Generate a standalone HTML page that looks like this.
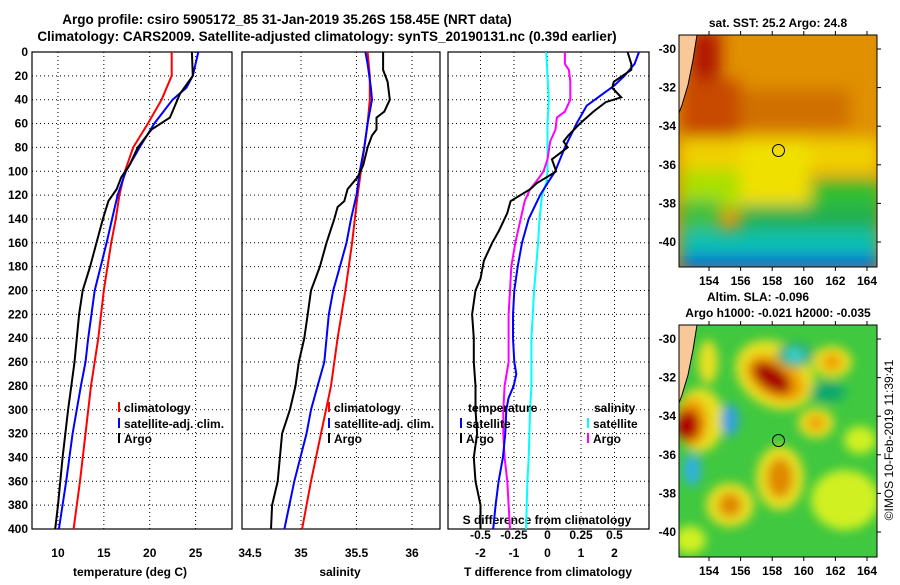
<!DOCTYPE html>
<html><head><meta charset="utf-8"><style>
body{margin:0;background:#fff}
svg text{font-family:"Liberation Sans",sans-serif;font-weight:bold;font-size:12px;fill:#000}
</style></head><body>
<svg id="c" width="900" height="580" xmlns="http://www.w3.org/2000/svg">
<defs>
<filter id="bl" x="-50%" y="-50%" width="200%" height="200%"><feGaussianBlur stdDeviation="8"/></filter>
<filter id="bl2" x="-50%" y="-50%" width="200%" height="200%"><feGaussianBlur stdDeviation="5"/></filter>
<clipPath id="m1"><rect x="679" y="35" width="198" height="232"/></clipPath>
<clipPath id="m2"><rect x="679" y="325" width="198" height="232"/></clipPath>
</defs>
<text x="287" y="24" text-anchor="middle" style="font-size:13.5px">Argo profile: csiro 5905172_85 31-Jan-2019 35.26S 158.45E (NRT data)</text>
<text x="327" y="41" text-anchor="middle" style="font-size:13.5px">Climatology: CARS2009. Satellite-adjusted climatology: synTS_20190131.nc (0.39d earlier)</text>

<!-- SST map -->
<g clip-path="url(#m1)">
<rect x="679" y="35" width="198" height="232" fill="#e09000"/>
<g filter="url(#bl)">
<rect x="690" y="30" width="30" height="90" fill="#b01800"/>
<rect x="680" y="80" width="60" height="60" fill="#c84800"/>
<rect x="740" y="90" width="110" height="40" fill="#d07000"/>
<rect x="680" y="138" width="200" height="36" fill="#f0d000"/>
<rect x="740" y="140" width="70" height="70" fill="#f0e000"/>
<rect x="680" y="170" width="60" height="40" fill="#a8e000"/>
<rect x="812" y="180" width="70" height="40" fill="#30c030"/>
<rect x="680" y="200" width="40" height="30" fill="#40c040"/>
<rect x="740" y="205" width="140" height="30" fill="#20b050"/>
<rect x="680" y="230" width="200" height="40" fill="#10c0b0"/>
<rect x="680" y="256" width="200" height="15" fill="#0060e0"/>
</g>
<path d="M679,35 L697,35 L693,60 L688,85 L682,105 L679,113 Z" fill="#f8c898" stroke="#000" stroke-width="1"/>
<circle cx="778.5" cy="150.5" r="6" fill="none" stroke="#000"/>
</g>
<rect x="679" y="35" width="198" height="232" fill="none" stroke="#000"/>
<text x="778" y="27" text-anchor="middle">sat. SST: 25.2 Argo: 24.8</text>

<!-- SLA map -->
<g clip-path="url(#m2)">
<rect x="679" y="325" width="198" height="232" fill="#40c840"/>
<g filter="url(#bl2)">
<ellipse cx="775" cy="375" rx="42" ry="32" fill="#e8e020" transform="rotate(30 775 375)"/>
<ellipse cx="775" cy="378" rx="32" ry="20" fill="#f0a000" transform="rotate(30 775 378)"/>
<ellipse cx="772" cy="378" rx="22" ry="12" fill="#a80000" transform="rotate(35 772 378)"/>
<ellipse cx="700" cy="420" rx="24" ry="32" fill="#e8e020"/>
<ellipse cx="692" cy="422" rx="16" ry="24" fill="#f0a000"/>
<ellipse cx="688" cy="425" rx="12" ry="16" fill="#b00000"/>
<ellipse cx="708" cy="362" rx="10" ry="22" fill="#e8e020"/>
<ellipse cx="795" cy="355" rx="18" ry="12" fill="#20a870"/>
<ellipse cx="795" cy="355" rx="10" ry="7" fill="#40d0d0"/>
<ellipse cx="832" cy="362" rx="20" ry="16" fill="#e8e020"/>
<ellipse cx="832" cy="362" rx="10" ry="9" fill="#f0a000"/>
<ellipse cx="828" cy="392" rx="18" ry="10" fill="#10a870"/>
<ellipse cx="816" cy="423" rx="18" ry="15" fill="#e8e020"/>
<ellipse cx="816" cy="423" rx="9" ry="8" fill="#f0a000"/>
<ellipse cx="730" cy="420" rx="9" ry="16" fill="#30a0e0"/>
<ellipse cx="692" cy="470" rx="9" ry="16" fill="#30b0e0"/>
<ellipse cx="780" cy="478" rx="24" ry="32" fill="#e8e020"/>
<ellipse cx="780" cy="478" rx="13" ry="20" fill="#e08800"/>
<ellipse cx="730" cy="505" rx="24" ry="22" fill="#e8e020"/>
<ellipse cx="730" cy="505" rx="12" ry="12" fill="#e08800"/>
<ellipse cx="845" cy="500" rx="34" ry="30" fill="#d0f020"/>
<ellipse cx="860" cy="440" rx="16" ry="14" fill="#d0f020"/>
<ellipse cx="690" cy="540" rx="16" ry="14" fill="#d0f020"/>
</g>
<path d="M679,325 L697,325 L693,350 L688,375 L682,395 L679,403 Z" fill="#f8c898" stroke="#000" stroke-width="1"/>
<circle cx="778.5" cy="440.5" r="6" fill="none" stroke="#000"/>
</g>
<rect x="679" y="325" width="198" height="232" fill="none" stroke="#000"/>
<text x="758" y="301" text-anchor="middle">Altim. SLA: -0.096</text>
<text x="778" y="317" text-anchor="middle">Argo h1000: -0.021 h2000: -0.035</text>
<text x="0" y="0" transform="translate(893,440) rotate(-90)" text-anchor="middle" style="font-weight:normal;font-size:12px">©IMOS 10-Feb-2019 11:39:41</text>
<g id="dyn"></g>
</svg>
<script>
// ---- data ----
const depths1 = [0,20,40,60,80,100,120,140,160,200,240,280,320,360,400];
const tClim = [22.4,22.4,21.3,19.8,18.2,17.3,16.7,16.3,15.8,15.0,14.4,13.6,13.0,12.4,11.7];
const depthsSat = [0,20,30,40,60,80,100,120,140,160,200,240,260,280,320,360,400];
const tSat = [25.3,24.7,24.0,22.5,20.5,18.9,17.4,16.5,15.9,15.3,14.0,13.3,13.0,12.5,11.6,10.9,10.1];
const depthsArgoT = [0,20,35,55,65,80,95,105,115,125,140,160,180,200,220,260,300,340,380,400];
const tArgo = [24.6,24.7,23.3,22.2,20.2,18.7,17.8,16.9,16.4,15.5,14.9,14.2,13.5,12.7,12.3,11.8,11.1,10.5,10.0,9.7];
const depthsSClim = [0,20,40,60,80,100,120,160,200,240,280,320,360,400];
const sClim = [35.60,35.62,35.62,35.60,35.57,35.54,35.51,35.46,35.40,35.33,35.27,35.18,35.09,35.01];
const depthsSSat = [0,10,30,40,60,80,100,120,140,160,180,200,220,260,280,300,320,360,400];
const sSat = [35.58,35.60,35.63,35.64,35.60,35.57,35.53,35.50,35.45,35.41,35.35,35.29,35.25,35.21,35.15,35.09,35.05,34.94,34.85];
const depthsSArgo = [0,15,25,40,50,55,65,70,80,95,105,115,125,130,140,160,180,200,220,240,260,280,300,320,340,360,380,400];
const sArgo = [35.74,35.74,35.78,35.80,35.75,35.68,35.68,35.64,35.60,35.56,35.51,35.42,35.39,35.33,35.30,35.23,35.17,35.09,35.06,35.03,34.98,34.95,34.90,34.83,34.81,34.79,34.74,34.73];
const depthsDT = [0,10,20,28,35,45,60,80,100,110,120,140,160,180,200,220,240,260,270,280,290,300,320,340,360,380,400];
const dTSat = [2.73,2.6,2.3,2.0,1.66,1.17,0.87,0.52,0.23,0,-0.22,-0.56,-0.76,-0.89,-0.99,-1.03,-1.03,-0.99,-0.93,-1.01,-1.16,-1.23,-1.26,-1.33,-1.46,-1.55,-1.62];
const depthsDTA = [0,10,15,20,25,30,38,42,50,60,70,75,80,90,100,105,110,115,125,135,150,160,175,190,200,220,240,260,280,300,320,340,360,380,400];
const dTArgo = [2.39,2.5,2.5,2.24,1.98,1.93,2.2,1.74,1.37,0.97,0.62,0.48,0.6,0.13,0.26,-0.02,-0.32,-0.51,-1.1,-1.2,-1.45,-1.65,-1.9,-2.0,-2.15,-2.25,-2.2,-2.2,-2.15,-2.15,-2.1,-2.2,-2.15,-2.0,-2.0];
const depthsDS = [0,20,40,60,80,100,110,120,140,160,180,200,220,240,260,280,300,320,340,360,380,400];
const dSSat = [-0.01,0,0.01,0,0,0,-0.01,-0.04,-0.06,-0.07,-0.085,-0.1,-0.11,-0.12,-0.12,-0.12,-0.13,-0.135,-0.14,-0.15,-0.155,-0.16];
const depthsDSA = [0,10,15,25,40,50,55,65,75,90,100,108,115,125,140,160,180,200,220,260,280,300,320,340,360,380,400];
const dSArgo = [0.13,0.13,0.16,0.17,0.17,0.13,0.07,0.06,0.02,0,-0.03,-0.08,-0.13,-0.17,-0.2,-0.24,-0.27,-0.28,-0.29,-0.29,-0.32,-0.33,-0.33,-0.32,-0.3,-0.29,-0.28];
const depthTicks = [0,20,40,60,80,100,120,140,160,180,200,220,240,260,280,300,320,340,360,380,400];
const tTicks = [10,15,20,25];
const sTicks = [34.5,35,35.5,36];
const sTickLabels = ["34.5","35","35.5","36"];
const dTTicks = [-2,-1,0,1,2];
const dSTicks = [-0.5,-0.25,0,0.25,0.5];
const lonTicks = [154,156,158,160,162,164];
const latTicks = [-30,-32,-34,-36,-38,-40];

const NS="http://www.w3.org/2000/svg";
const g=document.getElementById('dyn');
function el(t,a,p){const e=document.createElementNS(NS,t);for(const k in a)e.setAttribute(k,a[k]);(p||g).appendChild(e);return e;}
const Y0=52,Y1=529;
const yD=d=>Y0+d/400*(Y1-Y0);
const xT=t=>32+(t-7.17)*(200/21.8);
const xS=s=>301+(s-35)*111;
const xDT=v=>547.5+v*33.5;
const xDS=v=>547.5+v*134;
const panels=[[32,232],[242,440],[448,649]];

panels.forEach((p,i)=>{
  depthTicks.forEach(d=>{
    const l=el('line',{x1:p[0],x2:p[1],y1:yD(d),y2:yD(d),stroke:'#000','stroke-dasharray':'1,3','stroke-width':1});
    
    
  });
});
function vgrid(xs,fn,p){xs.forEach(v=>{const l=el('line',{x1:fn(v),x2:fn(v),y1:Y0,y2:Y1,stroke:'#000','stroke-dasharray':'1,3'});

});}
vgrid(tTicks,xT);vgrid(sTicks.slice(1),xS);vgrid(dTTicks,xDT);
panels.forEach((p,i)=>{const r=el('rect',{x:p[0],y:Y0,width:p[1]-p[0],height:Y1-Y0,fill:'none',stroke:'#000','stroke-width':1.2});

});
depthTicks.forEach(d=>{const t=el('text',{x:28,y:yD(d)+4,'text-anchor':'end'});t.textContent=d;

});
tTicks.forEach(v=>{const t=el('text',{x:xT(v),y:557,'text-anchor':'middle'});t.textContent=v;

});
sTicks.forEach((v,i)=>{const t=el('text',{x:Math.max(xS(v),250),y:557,'text-anchor':'middle'});t.textContent=sTickLabels[i];

});
dTTicks.forEach(v=>{const t=el('text',{x:xDT(v),y:557,'text-anchor':'middle'});t.textContent=v;

});
dSTicks.forEach(v=>{const t=el('text',{x:xDS(v),y:539,'text-anchor':'middle'});t.textContent=v;

});
[['temperature (deg C)',130,576,'temperature-axis-title'],['salinity',340,576,'salinity-axis-title'],['T difference from climatology',548,576,'t-diff-axis-title'],['S difference from climatology',547,524,'s-diff-axis-title']].forEach(a=>{
 const t=el('text',{x:a[1],y:a[2],'text-anchor':'middle'});t.textContent=a[0];
 
 });

function line(xs,ds,fx,col,name){const pts=xs.map((v,i)=>fx(v).toFixed(1)+','+yD(ds[i]).toFixed(1)).join(' ');
 const l=el('polyline',{points:pts,fill:'none',stroke:col,'stroke-width':2});
 
 }
line(tClim,depths1,xT,'#ff0000','temp-climatology-line');
line(tSat,depthsSat,xT,'#0000ff','temp-satellite-line');
line(tArgo,depthsArgoT,xT,'#000','temp-argo-line');
line(sClim,depthsSClim,xS,'#ff0000','sal-climatology-line');
line(sSat,depthsSSat,xS,'#0000ff','sal-satellite-line');
line(sArgo,depthsSArgo,xS,'#000','sal-argo-line');
line(dSSat,depthsDS,xDS,'#00ffff','sdiff-satellite-line');
line(dSArgo,depthsDSA,xDS,'#ff00ff','sdiff-argo-line');
line(dTSat,depthsDT,xDT,'#0000ff','tdiff-satellite-line');
line(dTArgo,depthsDTA,xDT,'#000','tdiff-argo-line');

function leg(x,y,col,txt){const l=el('line',{x1:x,x2:x,y1:y-10,y2:y,stroke:col,'stroke-width':2});
 
 
 const t=el('text',{x:x+5,y:y});t.textContent=txt;
 
 }
leg(119,412,'#ff0000','climatology');leg(119,428,'#0000ff','satellite-adj. clim.');leg(119,443,'#000','Argo');
leg(329,412,'#ff0000','climatology');leg(329,428,'#0000ff','satellite-adj. clim.');leg(329,443,'#000','Argo');
const h1=el('text',{x:468,y:412});h1.textContent='temperature';


const h2=el('text',{x:594,y:412});h2.textContent='salinity';


leg(461,428,'#0000ff','satellite');leg(461,443,'#000','Argo');
leg(588,428,'#00ffff','satellite');leg(588,443,'#ff00ff','Argo');

// map axes
[[35,267,49,283],[325,557,339,573]].forEach((m,k)=>{
 lonTicks.forEach(v=>{const x=709+(v-154)*15.8;
  const tk=el('line',{x1:x,x2:x,y1:m[1],y2:m[1]+4,stroke:'#000'});
  
  
  const tk2=el('line',{x1:x,x2:x,y1:m[0]-4,y2:m[0],stroke:'#000'});
  
  
  const t=el('text',{x:x,y:m[3]+2,'text-anchor':'middle'});t.textContent=v;
  
  });
 latTicks.forEach(v=>{const y=m[2]+(-30-v)*19.3;
  const tk=el('line',{x1:877,x2:881,y1:y,y2:y,stroke:'#000'});
  
  
  const t=el('text',{x:676,y:y+4,'text-anchor':'end'});t.textContent=v;
  
  });
});
</script>
</body></html>
